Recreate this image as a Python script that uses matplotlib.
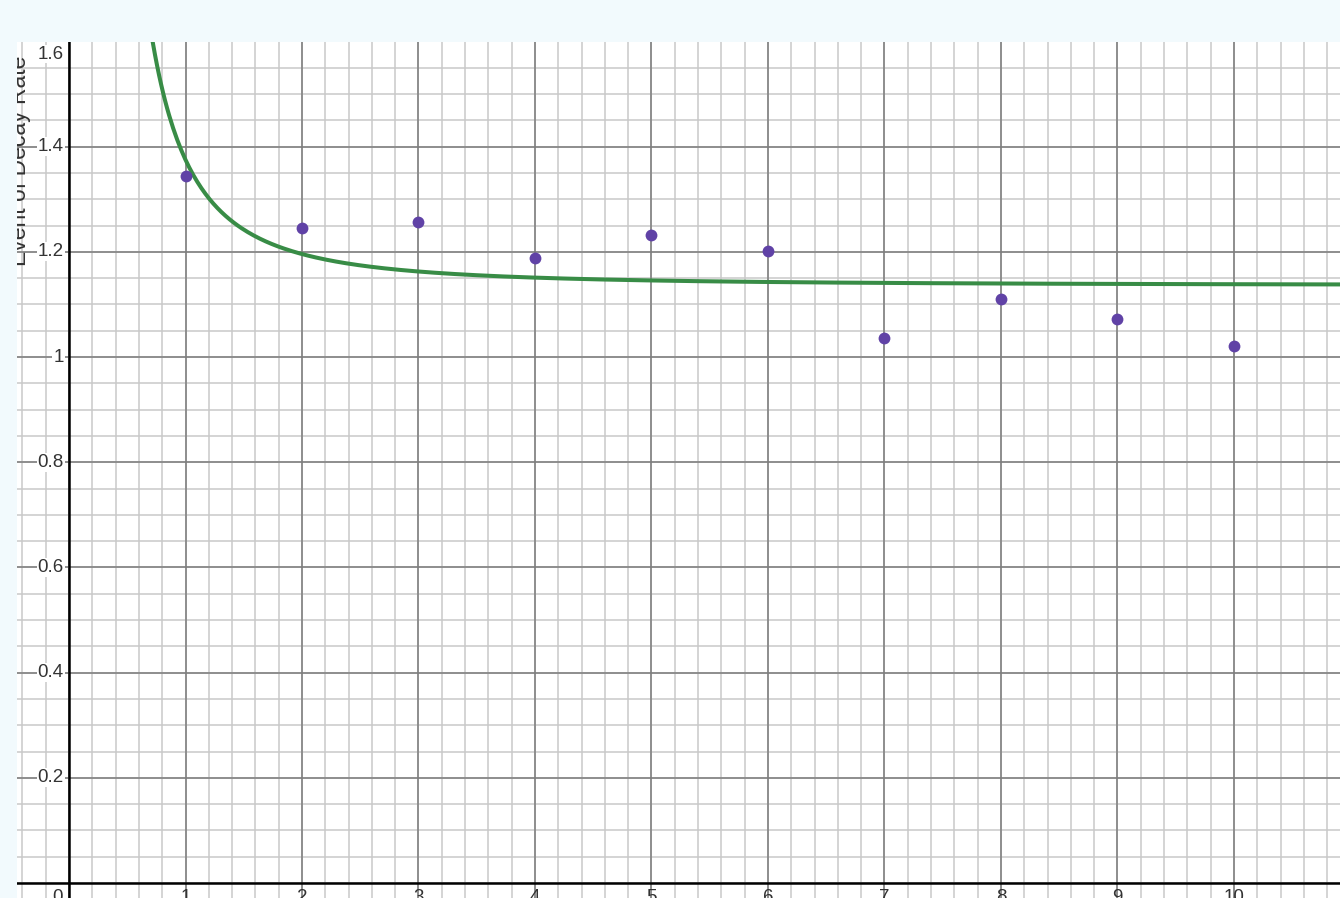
import numpy as np
import matplotlib
matplotlib.use("Agg")
import matplotlib.pyplot as plt

x_obs = [1, 2, 3, 4, 5, 6, 7, 8, 9, 10]
y_obs = [1.344, 1.245, 1.257, 1.188, 1.232, 1.202, 1.036, 1.110, 1.072, 1.021]

# fitted model y = c + b / x^2 (parameters estimated from the drawn curve)
fit_c = 1.136
fit_b = 0.239

x_ticks = [0, 1, 2, 3, 4, 5, 6, 7, 8, 9, 10, 11]
y_ticks = [0.2, 0.4, 0.6, 0.8, 1.0, 1.2, 1.4, 1.6]
y_tick_labels = ["0.2", "0.4", "0.6", "0.8", "1", "1.2", "1.4", "1.6"]

W, H = 1340, 898
fig = plt.figure(figsize=(W / 100, H / 100), dpi=100)
fig.patch.set_facecolor("#f2fafd")

ax = fig.add_axes([17 / W, 0, (W - 17) / W, (H - 42) / H])
ax.set_facecolor("white")
ax.set_xlim(-0.4464, 10.91)
ax.set_ylim(-0.0285, 1.5989)
for s in ax.spines.values():
    s.set_visible(False)
ax.set_xticks([])
ax.set_yticks([])

# grid: minor then major
for xv in np.arange(-0.4, 11.0, 0.2):
    ax.axvline(xv, color="#c9c9c9", lw=1.1, zorder=0)
for yv in np.arange(0.0, 1.65, 0.05):
    ax.axhline(yv, color="#c9c9c9", lw=1.1, zorder=0)
for xv in range(0, 11):
    ax.axvline(xv, color="#7c7c7c", lw=1.1, zorder=0.5)
for yv in np.arange(0.2, 1.65, 0.2):
    ax.axhline(yv, color="#7c7c7c", lw=1.1, zorder=0.5)

# axes lines
ax.axvline(0, color="black", lw=1.8, zorder=1)
ax.axhline(0, color="black", lw=1.8, zorder=1)

# curve
xc = np.linspace(0.6, 10.95, 600)
ax.plot(xc, fit_c + fit_b / xc ** 2, color="#388c46", lw=2.9, zorder=3,
        solid_capstyle="round")

# points
ax.plot(x_obs, y_obs, "o", color="#6042a6", ms=8.5, mec="none", zorder=4)

font = "Liberation Sans"
lab_bbox = dict(boxstyle="square,pad=0.05", fc="white", ec="none")

# y tick labels
for yv, lab in zip(y_ticks, y_tick_labels):
    ypos = yv if yv < 1.55 else 1.576
    ax.text(-0.045, ypos, lab, ha="right", va="center", fontsize=13.5,
            family=font, color="#333333", bbox=lab_bbox, zorder=2,
            clip_on=True)

# x tick labels (mostly cut by the bottom edge)
for xv in x_ticks:
    xpos = xv if xv != 0 else -0.095
    ax.text(xpos, -0.012, str(xv), ha="center", va="top", fontsize=13.5,
            family=font, color="#333333", zorder=2, clip_on=True)

# axis title, partly clipped by the left edge
ax.text(-0.33, 1.373, "Event of Decay Rate", rotation=90, ha="right",
        va="center", fontsize=16.5, family=font, color="#333333",
        zorder=2, clip_on=True)

fig.savefig("out.png", dpi=100, facecolor=fig.get_facecolor())
